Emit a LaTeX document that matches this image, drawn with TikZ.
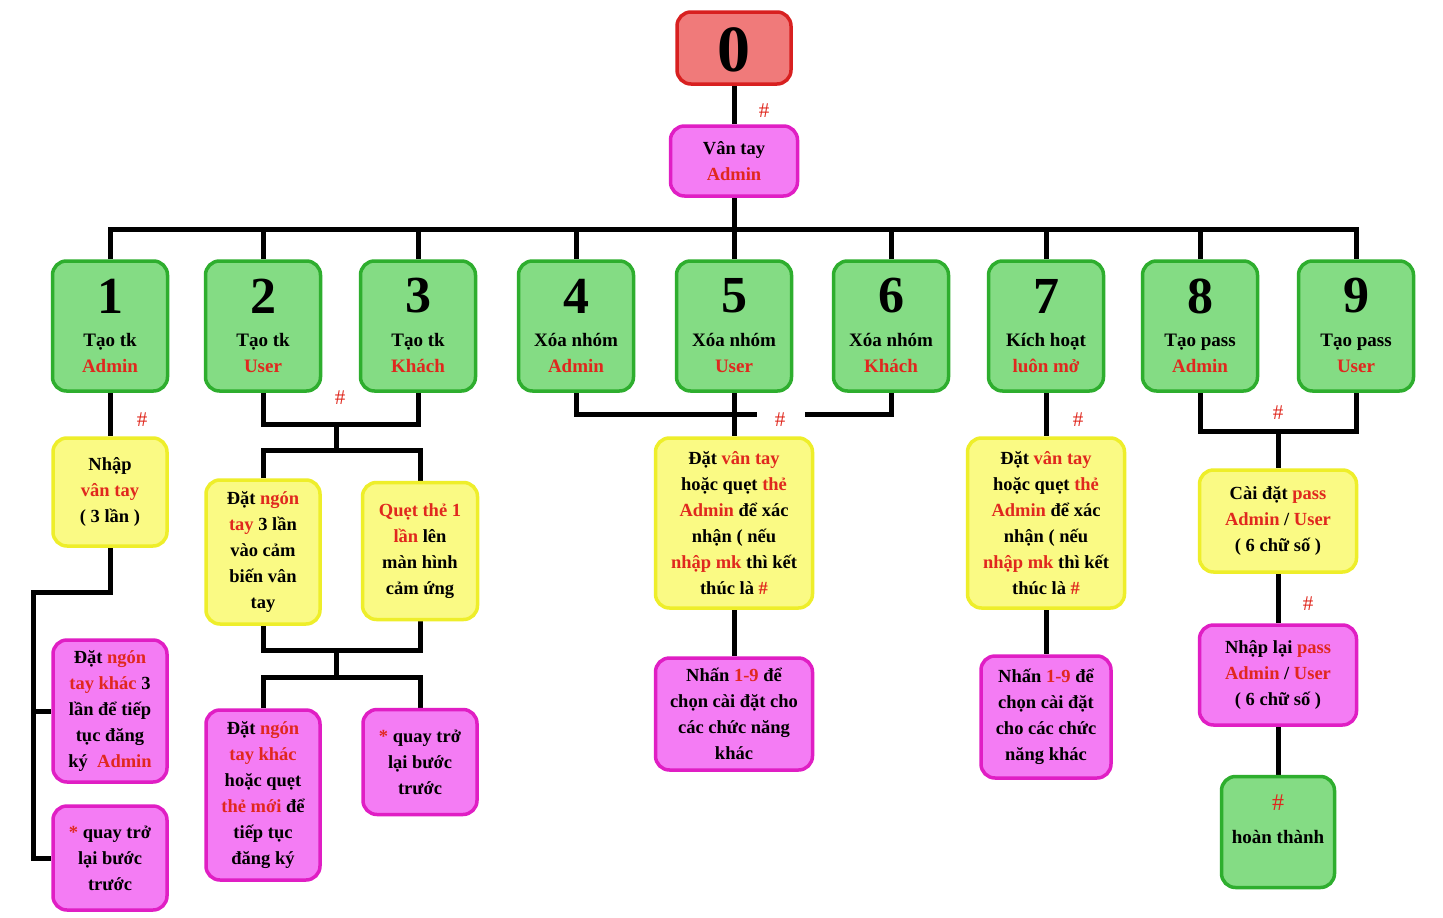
\documentclass[tikz,border=0pt]{standalone}
\usepackage{fontspec}
\setmainfont{Liberation Serif}
\usetikzlibrary{calc}
\definecolor{gfill}{HTML}{84DC84}
\definecolor{gdraw}{HTML}{2EAE2E}
\definecolor{yfill}{HTML}{FAFA84}
\definecolor{ydraw}{HTML}{EEEE2A}
\definecolor{mfill}{HTML}{F47CF4}
\definecolor{mdraw}{HTML}{E01EC4}
\definecolor{rfill}{HTML}{F07A7A}
\definecolor{rdraw}{HTML}{D82020}
\definecolor{tred}{HTML}{E0281E}
\pgfdeclarelayer{bg}
\pgfsetlayers{bg,main}
\newcommand\rt[1]{\textcolor{tred}{#1}}
\tikzset{
  box/.style={draw, line width=3.5pt, rounded corners=14pt, inner sep=0pt, align=center,
    font=\bfseries\fontsize{18.5}{26}\selectfont},
  gbox/.style={box, fill=gfill, draw=gdraw, minimum width=115pt, minimum height=130pt},
  ybox/.style={box, fill=yfill, draw=ydraw},
  mbox/.style={box, fill=mfill, draw=mdraw},
  rbox/.style={box, fill=rfill, draw=rdraw},
  txt/.style={inner sep=0pt, align=center, font=\bfseries\fontsize{19}{26}\selectfont},
  digit/.style={inner sep=0pt, font=\bfseries\fontsize{52}{52}\selectfont},
  hash/.style={inner sep=0pt, text=tred, font=\fontsize{21}{24}\selectfont},
  conn/.style={line width=5pt, black}
}
\newcommand\gbox[5]{%
  \node[gbox] (#1) at (#2,326) {};
  \node[digit] (#1d) at (#2,296) {#3};
  \node[txt] (#1t) at (#2,353) {#4\\\rt{#5}};
}
\begin{document}
\begin{tikzpicture}[x=1pt,y=-1pt]
\useasboundingbox (0,0) rectangle (1443,918);
\begin{pgfonlayer}{bg}
\fill[white] (0,0) rectangle (1443,918);
\end{pgfonlayer}

% top
\node[rbox, minimum width=114pt, minimum height=72pt] (zero) at (734,48) {};
\node[inner sep=0pt, font=\bfseries\fontsize{66}{66}\selectfont] (zerod) at (734,50) {0};
\node[mbox, minimum width=127pt, minimum height=70pt] (vt) at (734,161) {Vân tay\\\rt{Admin}};
\node[hash] (h0) at (764,111) {\#};

% green row
\gbox{b1}{110}{1}{Tạo tk}{Admin}
\gbox{b2}{263}{2}{Tạo tk}{User}
\gbox{b3}{418}{3}{Tạo tk}{Khách}
\gbox{b4}{576}{4}{Xóa nhóm}{Admin}
\gbox{b5}{734}{5}{Xóa nhóm}{User}
\gbox{b6}{891}{6}{Xóa nhóm}{Khách}
\gbox{b7}{1046}{7}{Kích hoạt}{luôn mở}
\gbox{b8}{1200}{8}{Tạo pass}{Admin}
\gbox{b9}{1356}{9}{Tạo pass}{User}

% branch 1
\node[ybox, minimum width=114pt, minimum height=108pt] (y1) at (110,492) {Nhập\\\rt{vân tay}\\( 3 lần )};
\node[mbox, minimum width=114pt, minimum height=142pt] (m1) at (110,711) {Đặt \rt{ngón}\\\rt{tay khác} 3\\lần để tiếp\\tục đăng\\ký \ \rt{Admin}};
\node[mbox, minimum width=114pt, minimum height=104pt] (q1) at (110,858) {\rt{*} quay trở\\lại bước\\trước};
\node[hash] (h1) at (142,420) {\#};

% branch 2/3
\node[ybox, minimum width=114pt, minimum height=144pt] (y2) at (263,552) {Đặt \rt{ngón}\\\rt{tay} 3 lần\\vào cảm\\biến vân\\tay};
\node[ybox, minimum width=115pt, minimum height=137pt] (y3) at (420,551) {\rt{Quẹt thẻ 1}\\\rt{lần} lên\\màn hình\\cảm ứng};
\node[mbox, minimum width=114pt, minimum height=170pt] (m2) at (263,795) {Đặt \rt{ngón}\\\rt{tay khác}\\hoặc quẹt\\\rt{thẻ mới} để\\tiếp tục\\đăng ký};
\node[mbox, minimum width=114pt, minimum height=105pt] (m3) at (420,762) {\rt{*} quay trở\\lại bước\\trước};
\node[hash] (h23) at (340,398) {\#};

% branch 4/5/6
\node[ybox, minimum width=157pt, minimum height=170pt] (y5) at (734,523) {Đặt \rt{vân tay}\\hoặc quẹt \rt{thẻ}\\\rt{Admin} để xác\\nhận ( nếu\\\rt{nhập mk} thì kết\\thúc là \rt{\#}};
\node[mbox, minimum width=157pt, minimum height=112pt] (m5) at (734,714) {Nhấn \rt{1-9} để\\chọn cài đặt cho\\các chức năng\\khác};
\node[hash] (h456) at (780,420) {\#};

% branch 7
\node[ybox, minimum width=157pt, minimum height=170pt] (y7) at (1046,523) {Đặt \rt{vân tay}\\hoặc quẹt \rt{thẻ}\\\rt{Admin} để xác\\nhận ( nếu\\\rt{nhập mk} thì kết\\thúc là \rt{\#}};
\node[mbox, minimum width=130pt, minimum height=122pt] (m7) at (1046,717) {Nhấn \rt{1-9} để\\chọn cài đặt\\cho các chức\\năng khác};
\node[hash] (h7) at (1078,420) {\#};

% branch 8/9
\node[ybox, minimum width=157pt, minimum height=102pt] (y8) at (1278,521) {Cài đặt \rt{pass}\\\rt{Admin} / \rt{User}\\( 6 chữ số )};
\node[mbox, minimum width=157pt, minimum height=100pt] (m8) at (1278,675) {Nhập lại \rt{pass}\\\rt{Admin} / \rt{User}\\( 6 chữ số )};
\node[gbox, minimum width=113pt, minimum height=111pt] (done) at (1278,832) {};
\node[hash, font=\fontsize{24}{24}\selectfont] (donea) at (1278,803) {\#};
\node[txt] (doneb) at (1278,837) {hoàn thành};
\node[hash] (h89) at (1278,413) {\#};
\node[hash] (h8b) at (1308,604) {\#};

% connectors
\coordinate (bus) at (734,229);
\coordinate (c1) at (33,592);
\coordinate (c1b) at (33,858);
\coordinate (j23) at (336,424);
\coordinate (k23) at (336,450);
\coordinate (j23b) at (336,650);
\coordinate (k23b) at (336,677);
\coordinate (g1) at (757,414);
\coordinate (g2) at (805,414);
\coordinate (j89) at (1278,431);
\begin{pgfonlayer}{bg}
\draw[conn] (zero.south) -- (vt.north);
\draw[conn] (vt.south) -- (bus);
\draw[conn] (b1.north) -- (b1.north |- bus) -- (b9.north |- bus) -- (b9.north);
\foreach \b in {b2,b3,b4,b5,b6,b7,b8} \draw[conn] (\b.north) -- (\b.north |- bus);
\draw[conn] (b1.south) -- (y1.north);
\draw[conn] (y1.south) |- (c1) -- (c1b) -- (q1.west);
\draw[conn] (c1 |- m1.west) -- (m1.west);
\draw[conn] (b2.south) |- (j23) -| (b3.south);
\draw[conn] (j23) -- (k23);
\draw[conn] (y2.north) |- (k23) -| (y3.north);
\draw[conn] (y2.south) |- (j23b) -| (y3.south);
\draw[conn] (j23b) -- (k23b);
\draw[conn] (m2.north) |- (k23b) -| (m3.north);
\draw[conn] (b4.south) |- (g1);
\draw[conn] (g2) -| (b6.south);
\draw[conn] (b5.south) -- (y5.north);
\draw[conn] (y5.south) -- (m5.north);
\draw[conn] (b7.south) -- (y7.north);
\draw[conn] (y7.south) -- (m7.north);
\draw[conn] (b8.south) |- (j89) -| (b9.south);
\draw[conn] (j89) -- (y8.north);
\draw[conn] (y8.south) -- (m8.north);
\draw[conn] (m8.south) -- (done.north);
\end{pgfonlayer}
\end{tikzpicture}
\end{document}
